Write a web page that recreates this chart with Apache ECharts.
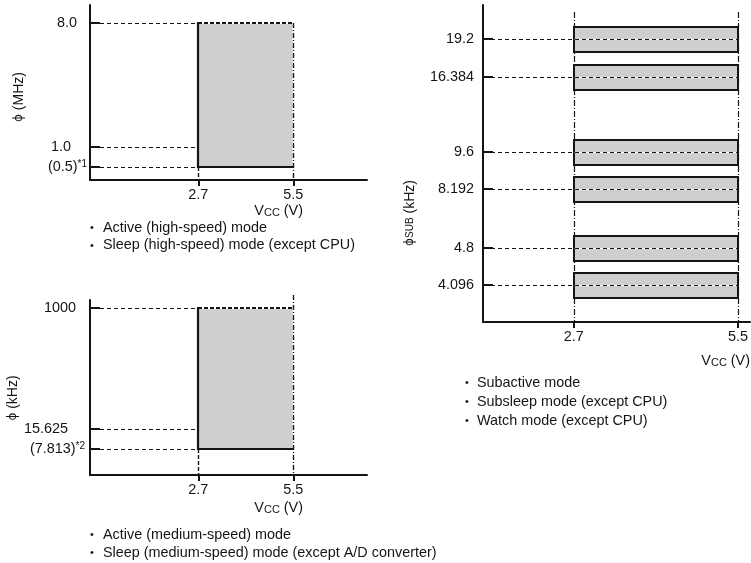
<!DOCTYPE html>
<html>
<head>
<meta charset="utf-8">
<script src="https://cdn.jsdelivr.net/npm/echarts@6/dist/echarts.min.js"></script>
<style>
html,body{margin:0;padding:0;background:#fff;}
#chart{width:751px;height:563px;}
</style>
</head>
<body>
<div id="chart"></div>
<script>
// ---------------- data ----------------
const vccTicks = [2.7, 5.5];                       // V
const hsVcc = [2.7, 5.5];                          // high-speed operating range (V)
const hsFreq = [0.5, 1.0, 8.0];                    // MHz
const hsFreqLabels = ['(0.5)', '1.0', '8.0'];
const hsNote = '*1';
const msVcc = [2.7, 5.5];                          // medium-speed operating range (V)
const msFreq = [7.813, 15.625, 1000];              // kHz
const msFreqLabels = ['(7.813)', '15.625', '1000'];
const msNote = '*2';
const subVcc = [2.7, 5.5];                         // subclock operating range (V)
const subFreq = [4.096, 4.8, 8.192, 9.6, 16.384, 19.2];   // kHz
const subFreqLabels = ['4.096', '4.8', '8.192', '9.6', '16.384', '19.2'];
const hsModes = ['Active (high-speed) mode', 'Sleep (high-speed) mode (except CPU)'];
const msModes = ['Active (medium-speed) mode', 'Sleep (medium-speed) mode (except A/D converter)'];
const subModes = ['Subactive mode', 'Subsleep mode (except CPU)', 'Watch mode (except CPU)'];

// ---------------- layout (schematic, not-to-scale frequency axes) ----------------
const hsLevelPos = [13, 33, 157];
const msLevelPos = [26, 46, 167];
const subLevelPos = [37, 74, 133, 170, 245, 283];
const subBarHalf = 12.5;
const FONT = 'Liberation Sans, Arial, Helvetica, sans-serif';
const FS = 14.4;
const INK = '#151515';
const FILL = '#cfcfcf';

function levelOf(freqs, pos, f) { return pos[freqs.indexOf(f)]; }
const c1 = v => Math.round(v) + 0.5;   // crisp 1px
const c2 = v => Math.round(v);         // crisp 2px

function labelFormatter(pos, labels, noteIdx, note) {
  return function (v) {
    let i = -1;
    pos.forEach((p, k) => { if (Math.abs(p - v) < 1e-6) i = k; });
    if (i < 0) return '';
    if (i === noteIdx) return '{n|' + labels[i] + '}{s|' + note + '}';
    return '{p' + i + '|' + labels[i] + '}';
  };
}

function dashLine(x1, y1, x2, y2, dash, w) {
  return { type: 'line', shape: { x1, y1, x2, y2 }, style: { stroke: INK, lineWidth: w || 1, lineDash: dash } };
}
function solidLine(x1, y1, x2, y2, w, color) {
  return { type: 'line', shape: { x1, y1, x2, y2 }, style: { stroke: color || INK, lineWidth: w || 2 } };
}

// rectangle renderer for panels 1/2
function makeRangeRender(rightExtendTop) {
  return function (params, api) {
    const cs = params.coordSys;
    const tl = api.coord([api.value(0), api.value(3)]).map(c2);
    const br = api.coord([api.value(1), api.value(2)]).map(c2);
    const axisY = cs.y + cs.height;
    const rTop = rightExtendTop ? cs.y - 5 : tl[1];
    return {
      type: 'group',
      children: [
        { type: 'rect', shape: { x: tl[0], y: tl[1], width: br[0] - tl[0], height: br[1] - tl[1] }, style: { fill: FILL } },
        solidLine(tl[0], tl[1], br[0], tl[1], 2, '#fff'),
        dashLine(tl[0], tl[1], br[0], tl[1], [4, 2], 2),
        solidLine(c1(br[0]), tl[1], c1(br[0]), br[1], 2, '#fff'),
        dashLine(c1(br[0]), rTop, c1(br[0]), axisY, [5, 2, 1, 2], 1.4),
        dashLine(c1(tl[0]), br[1], c1(tl[0]), axisY, [4, 2], 1.4),
        solidLine(tl[0], tl[1] - 1, tl[0], br[1] + 1, 2.2),
        solidLine(tl[0], br[1], br[0], br[1], 2.2)
      ]
    };
  };
}
function makeGuideRender(toIndex) {
  return function (params, api) {
    const cs = params.coordSys;
    const p = api.coord([api.value(toIndex), api.value(2)]);
    return dashLine(cs.x + 10, c1(p[1]), p[0], c1(p[1]), [4, 3], 1);
  };
}

// subclock bars
function subBarRender(params, api) {
  const tl = api.coord([api.value(0), api.value(2) + subBarHalf]).map(c2);
  const br = api.coord([api.value(1), api.value(2) - subBarHalf]).map(c2);
  return { type: 'rect', shape: { x: tl[0], y: tl[1], width: br[0] - tl[0], height: br[1] - tl[1] },
    style: { fill: FILL, stroke: INK, lineWidth: 2 } };
}
function subGuideRender(params, api) {
  const cs = params.coordSys;
  const a = api.coord([api.value(0), api.value(2)]);
  const b = api.coord([api.value(1), api.value(2)]);
  const y = c1(a[1]);
  return { type: 'group', children: [
    solidLine(a[0] + 1, y, b[0] - 1, y, 1, '#fff'),
    dashLine(cs.x + 8, y, b[0], y, [4, 3], 1)
  ] };
}
function subVertRender(params, api) {
  const cs = params.coordSys;
  const p = api.coord([api.value(0), 0]);
  return dashLine(c1(p[0]), cs.y + 7, c1(p[0]), cs.y + cs.height, [6, 2, 1, 2], 1.2);
}

const textStyle = { fontFamily: FONT, fontSize: FS, color: INK };

function xAxisCfg(gi, min, max, margin) {
  return {
    gridIndex: gi, type: 'value', min, max,
    axisLine: { onZero: false, lineStyle: { color: INK, width: 2 } },
    axisTick: { show: true, customValues: vccTicks, length: 6, lineStyle: { color: INK, width: 2 } },
    axisLabel: Object.assign({ customValues: vccTicks, formatter: v => v.toFixed(1), margin }, textStyle),
    splitLine: { show: false }
  };
}
function yAxisCfg(gi, max, pos, labels, noteIdx, note, margin, padsRight, name, nameGap, namePad) {
  const rich = {
    n: { fontFamily: FONT, fontSize: FS, color: INK, lineHeight: 16 },
    s: { fontFamily: FONT, fontSize: 10, color: INK, lineHeight: 10, verticalAlign: 'top' }
  };
  pos.forEach((p, i) => {
    rich['p' + i] = { fontFamily: FONT, fontSize: FS, color: INK, lineHeight: 16, padding: [0, padsRight[i], 0, 0] };
  });
  return {
    gridIndex: gi, type: 'value', min: 0, max,
    axisLine: { onZero: false, lineStyle: { color: INK, width: 2 } },
    axisTick: { show: true, customValues: pos, inside: true, length: 10, lineStyle: { color: INK, width: 2 } },
    axisLabel: { customValues: pos, formatter: labelFormatter(pos, labels, noteIdx, note), margin, rich },
    splitLine: { show: false },
    name: name.text, nameLocation: 'middle', nameGap, nameRotate: 90,
    nameTextStyle: { rich: name.rich, padding: [0, namePad, 0, 0] }
  };
}

const nameRich = {
  p: { fontFamily: 'DejaVu Sans, sans-serif', fontSize: 12, color: INK },
  t: { fontFamily: FONT, fontSize: 14, color: INK },
  s: { fontFamily: FONT, fontSize: 10, color: INK }
};

const chart = echarts.init(document.getElementById('chart'), null, { renderer: 'canvas' });

const graphics = [];
function vccText(xr, y) {
  graphics.push({ type: 'text', x: xr, y, style: {
    text: '{v|V}{c|CC}{v| (V)}', align: 'right', verticalAlign: 'middle',
    rich: { v: { fontFamily: FONT, fontSize: FS, fill: INK, lineHeight: 16, verticalAlign: 'bottom' },
            c: { fontFamily: FONT, fontSize: 11, fill: INK, lineHeight: 13, verticalAlign: 'bottom' } } } });
}
function bullets(xb, xt, y0, dy, lines) {
  lines.forEach((t, i) => {
    graphics.push({ type: 'text', x: xb, y: y0 + i * dy, style: { text: '•', fontFamily: FONT, fontSize: 11, fill: INK, verticalAlign: 'middle' } });
    graphics.push({ type: 'text', x: xt, y: y0 + i * dy, style: { text: t, fontFamily: FONT, fontSize: FS, fill: INK, verticalAlign: 'middle' } });
  });
}
vccText(303, 210);
vccText(303, 507);
vccText(750, 360);
bullets(90, 103, 228, 17.5, hsModes);
bullets(90, 103, 535, 18, msModes);
bullets(465, 477, 383, 19, subModes);

const option = {
  animation: false,
  backgroundColor: '#fff',
  textStyle: { fontFamily: FONT },
  grid: [
    { left: 90, top: 5, width: 277, height: 175 },
    { left: 90, top: 300, width: 277, height: 175 },
    { left: 483, top: 5, width: 268, height: 317 }
  ],
  xAxis: [
    xAxisCfg(0, -0.492, 7.672, 8),
    xAxisCfg(1, -0.492, 7.672, 8),
    xAxisCfg(2, 1.156, 5.704, 8)
  ],
  yAxis: [
    yAxisCfg(0, 175, hsLevelPos, hsFreqLabels, 0, hsNote, 3, [0, 16, 10],
      { text: '{p|ϕ}{t| (MHz)}', rich: nameRich }, 64, 9),
    yAxisCfg(1, 175, msLevelPos, msFreqLabels, 0, msNote, 5, [0, 17, 9],
      { text: '{p|ϕ}{t| (kHz)}', rich: nameRich }, 67, 21),
    yAxisCfg(2, 317, subLevelPos, subFreqLabels, -1, '', 9, [0, 0, 0, 0, 0, 0],
      { text: '{p|ϕ}{s|SUB}{t| (kHz)}', rich: nameRich }, 66, 99)
  ],
  graphic: graphics,
  series: [
    { type: 'custom', xAxisIndex: 0, yAxisIndex: 0, z: 2, renderItem: makeRangeRender(false),
      data: [[hsVcc[0], hsVcc[1], levelOf(hsFreq, hsLevelPos, hsFreq[0]), levelOf(hsFreq, hsLevelPos, hsFreq[2])]] },
    { type: 'custom', xAxisIndex: 0, yAxisIndex: 0, z: 3, renderItem: makeGuideRender(0),
      data: hsFreq.map(f => [hsVcc[0], hsVcc[1], levelOf(hsFreq, hsLevelPos, f)]) },
    { type: 'custom', xAxisIndex: 1, yAxisIndex: 1, z: 2, renderItem: makeRangeRender(true),
      data: [[msVcc[0], msVcc[1], levelOf(msFreq, msLevelPos, msFreq[0]), levelOf(msFreq, msLevelPos, msFreq[2])]] },
    { type: 'custom', xAxisIndex: 1, yAxisIndex: 1, z: 3, renderItem: makeGuideRender(0),
      data: msFreq.map(f => [msVcc[0], msVcc[1], levelOf(msFreq, msLevelPos, f)]) },
    { type: 'custom', xAxisIndex: 2, yAxisIndex: 2, z: 1, renderItem: subVertRender,
      data: subVcc.map(v => [v]) },
    { type: 'custom', xAxisIndex: 2, yAxisIndex: 2, z: 2, renderItem: subBarRender,
      data: subFreq.map(f => [subVcc[0], subVcc[1], levelOf(subFreq, subLevelPos, f)]) },
    { type: 'custom', xAxisIndex: 2, yAxisIndex: 2, z: 3, renderItem: subGuideRender,
      data: subFreq.map(f => [subVcc[0], subVcc[1], levelOf(subFreq, subLevelPos, f)]) }
  ]
};
chart.setOption(option);
</script>
</body>
</html>
